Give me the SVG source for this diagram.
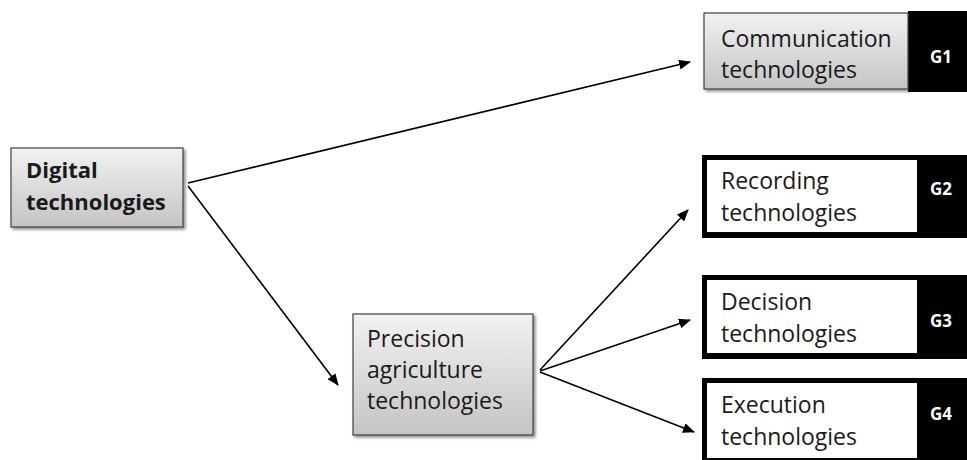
<svg xmlns="http://www.w3.org/2000/svg" width="967" height="460" viewBox="0 0 967 460">
<defs>
<linearGradient id="gray" x1="0" y1="0" x2="0" y2="1">
<stop offset="0" stop-color="#f2f2f2"/>
<stop offset="1" stop-color="#c4c4c4"/>
</linearGradient>
<filter id="sh" x="-10%" y="-10%" width="130%" height="140%">
<feDropShadow dx="2" dy="2" stdDeviation="1.5" flood-color="#000" flood-opacity="0.45"/>
</filter>
<marker id="arr" markerWidth="12" markerHeight="10" refX="11" refY="5" orient="auto" markerUnits="userSpaceOnUse">
<path d="M0,0 L12,5 L0,10 Z" fill="#000"/>
</marker>
</defs>
<style>
.gbox{fill:url(#gray);stroke:#404040;stroke-width:1.2;filter:url(#sh)}
.t{font-family:"Open Sans","Liberation Sans",sans-serif;font-size:23px;fill:#1a1a1a}
.b{font-weight:bold;font-size:22px}
.g{font-family:"Open Sans","Liberation Sans",sans-serif;font-size:17px;font-weight:bold;fill:#fff;text-anchor:middle}
.c{stroke:#000;stroke-width:1.6;fill:none;marker-end:url(#arr)}
</style>
<g id="connectors">
<line class="c" x1="188" y1="183" x2="690" y2="62"/>
<line class="c" x1="188" y1="186" x2="338" y2="385"/>
<line class="c" x1="540" y1="370" x2="688" y2="210"/>
<line class="c" x1="540" y1="371" x2="690" y2="320"/>
<line class="c" x1="540" y1="372" x2="694" y2="432"/>
</g>
<g id="digital">
<rect class="gbox" x="11" y="148" width="172" height="79"/>
<text class="t b" x="26" y="178">Digital</text>
<text class="t b" x="26" y="210">technologies</text>
</g>
<g id="precision">
<rect class="gbox" x="353" y="314" width="180" height="121"/>
<text class="t" x="367" y="347">Precision</text>
<text class="t" x="367" y="378">agriculture</text>
<text class="t" x="367" y="409">technologies</text>
</g>
<g id="g1">
<rect x="908" y="11" width="59" height="81" fill="#000"/>
<rect class="gbox" x="704" y="13" width="204" height="76"/>
<text class="t" x="721" y="47">Communication</text>
<text class="t" x="721" y="78">technologies</text>
<text class="g" x="941" y="63">G1</text>
</g>
<g id="g2">
<rect x="702" y="155" width="265" height="83" fill="#000"/>
<rect x="707" y="160" width="210" height="72" fill="#fff"/>
<text class="t" x="721" y="189">Recording</text>
<text class="t" x="721" y="221">technologies</text>
<text class="g" x="941" y="195">G2</text>
</g>
<g id="g3">
<rect x="702" y="275" width="265" height="84" fill="#000"/>
<rect x="707" y="280" width="210" height="73" fill="#fff"/>
<text class="t" x="721" y="310">Decision</text>
<text class="t" x="721" y="342">technologies</text>
<text class="g" x="941" y="327">G3</text>
</g>
<g id="g4">
<rect x="702" y="378" width="265" height="90" fill="#000"/>
<rect x="707" y="383" width="210" height="75" fill="#fff"/>
<text class="t" x="721" y="413">Execution</text>
<text class="t" x="721" y="445">technologies</text>
<text class="g" x="941" y="420">G4</text>
</g>
</svg>
